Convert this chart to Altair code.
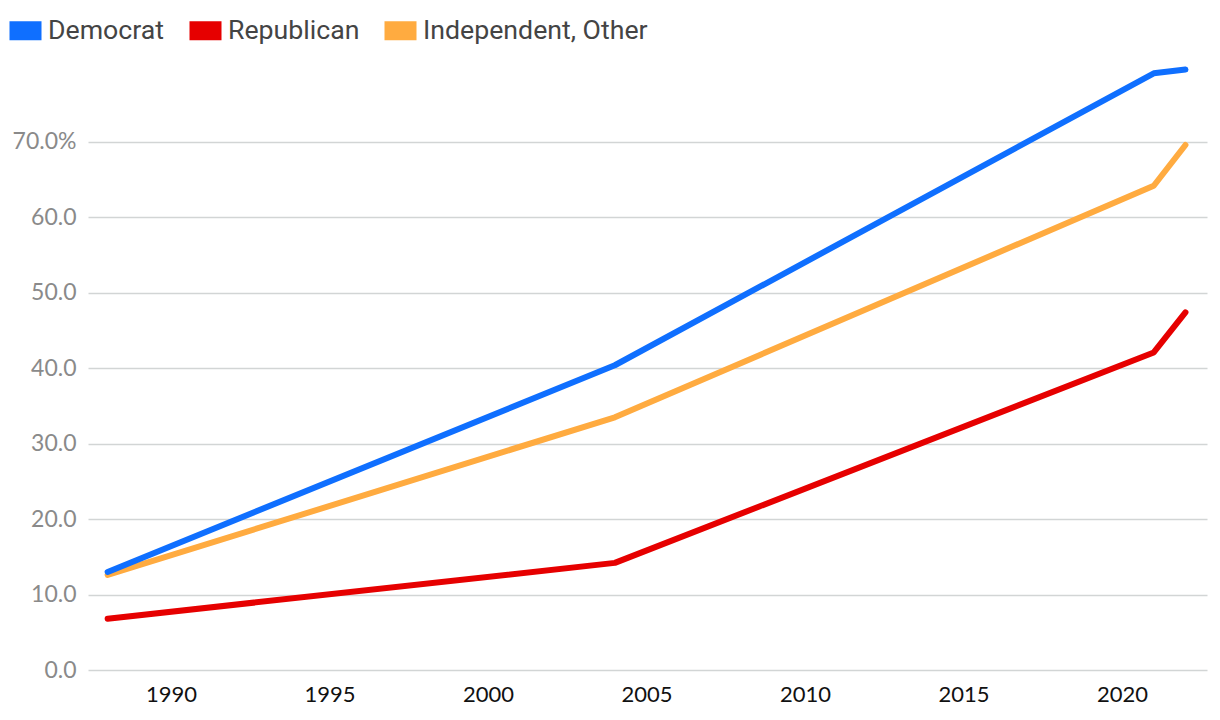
import altair as alt
import pandas as pd

years = [1988, 2004, 2021, 2022]
democrat = [13.0, 40.4, 79.1, 79.6]
republican = [6.8, 14.2, 42.1, 47.4]
independent = [12.6, 33.5, 64.2, 69.6]

series_names = ["Democrat", "Republican", "Independent, Other"]
series_colors = ["#0f6fff", "#e60000", "#ffab40"]
x_ticks = [1990, 1995, 2000, 2005, 2010, 2015, 2020]
y_ticks = [0, 10, 20, 30, 40, 50, 60, 70]

rows = []
for name, vals in zip(series_names, [democrat, republican, independent]):
    for yr, v in zip(years, vals):
        rows.append({"year": yr, "value": v, "party": name})
df = pd.DataFrame(rows)

color = alt.Color(
    "party:N",
    scale=alt.Scale(domain=series_names, range=series_colors),
    legend=alt.Legend(
        title=None,
        orient="none",
        direction="horizontal",
        legendX=-88,
        legendY=-54,
        padding=0,
        symbolType="M-1,0H1",
        symbolSize=1024,
        symbolStrokeWidth=19,
        symbolOpacity=1,
        labelFont="Roboto",
        labelFontSize=26.7,
        labelColor="#444444",
        labelOffset={"expr": "-3"},
        columnPadding={"expr": "-14"},
        labelLimit=400,
    ),
)

x = alt.X(
    "year:Q",
    scale=alt.Scale(domain=[1987.38, 2022.68], nice=False, zero=False),
    axis=alt.Axis(
        title=None,
        values=x_ticks,
        format="d",
        grid=False,
        domain=False,
        ticks=False,
        labelFont="Lato",
        labelFontSize=22,
        labelColor="#111111",
        labelPadding=14,
    ),
)
y = alt.Y(
    "value:Q",
    scale=alt.Scale(domain=[0, 81], nice=False),
    axis=alt.Axis(
        title=None,
        values=y_ticks,
        labelExpr="datum.value == 70 ? '70.0%' : format(datum.value, '.1f')",
        grid=True,
        gridColor="#d2d5d5",
        gridWidth=1.6,
        domain=False,
        ticks=False,
        labelFont="Lato",
        labelFontSize=23,
        labelColor="#8a8a8a",
        labelPadding=12,
    ),
)

layers = []
for name in ["Independent, Other", "Republican", "Democrat"]:
    layers.append(
        alt.Chart(df)
        .transform_filter(alt.datum.party == name)
        .mark_line(strokeWidth=6, strokeCap="round", strokeJoin="round")
        .encode(x=x, y=y, color=color)
    )

chart = (
    alt.layer(*layers)
    .properties(
        width=1119,
        height=611,
        autosize=alt.AutoSizeParams(type="none"),
        padding={"left": 80, "top": 51, "right": 5, "bottom": 42},
    )
    .configure_view(stroke=None)
)

chart.save("out.html", embed_options={"renderer": "svg", "actions": False})
